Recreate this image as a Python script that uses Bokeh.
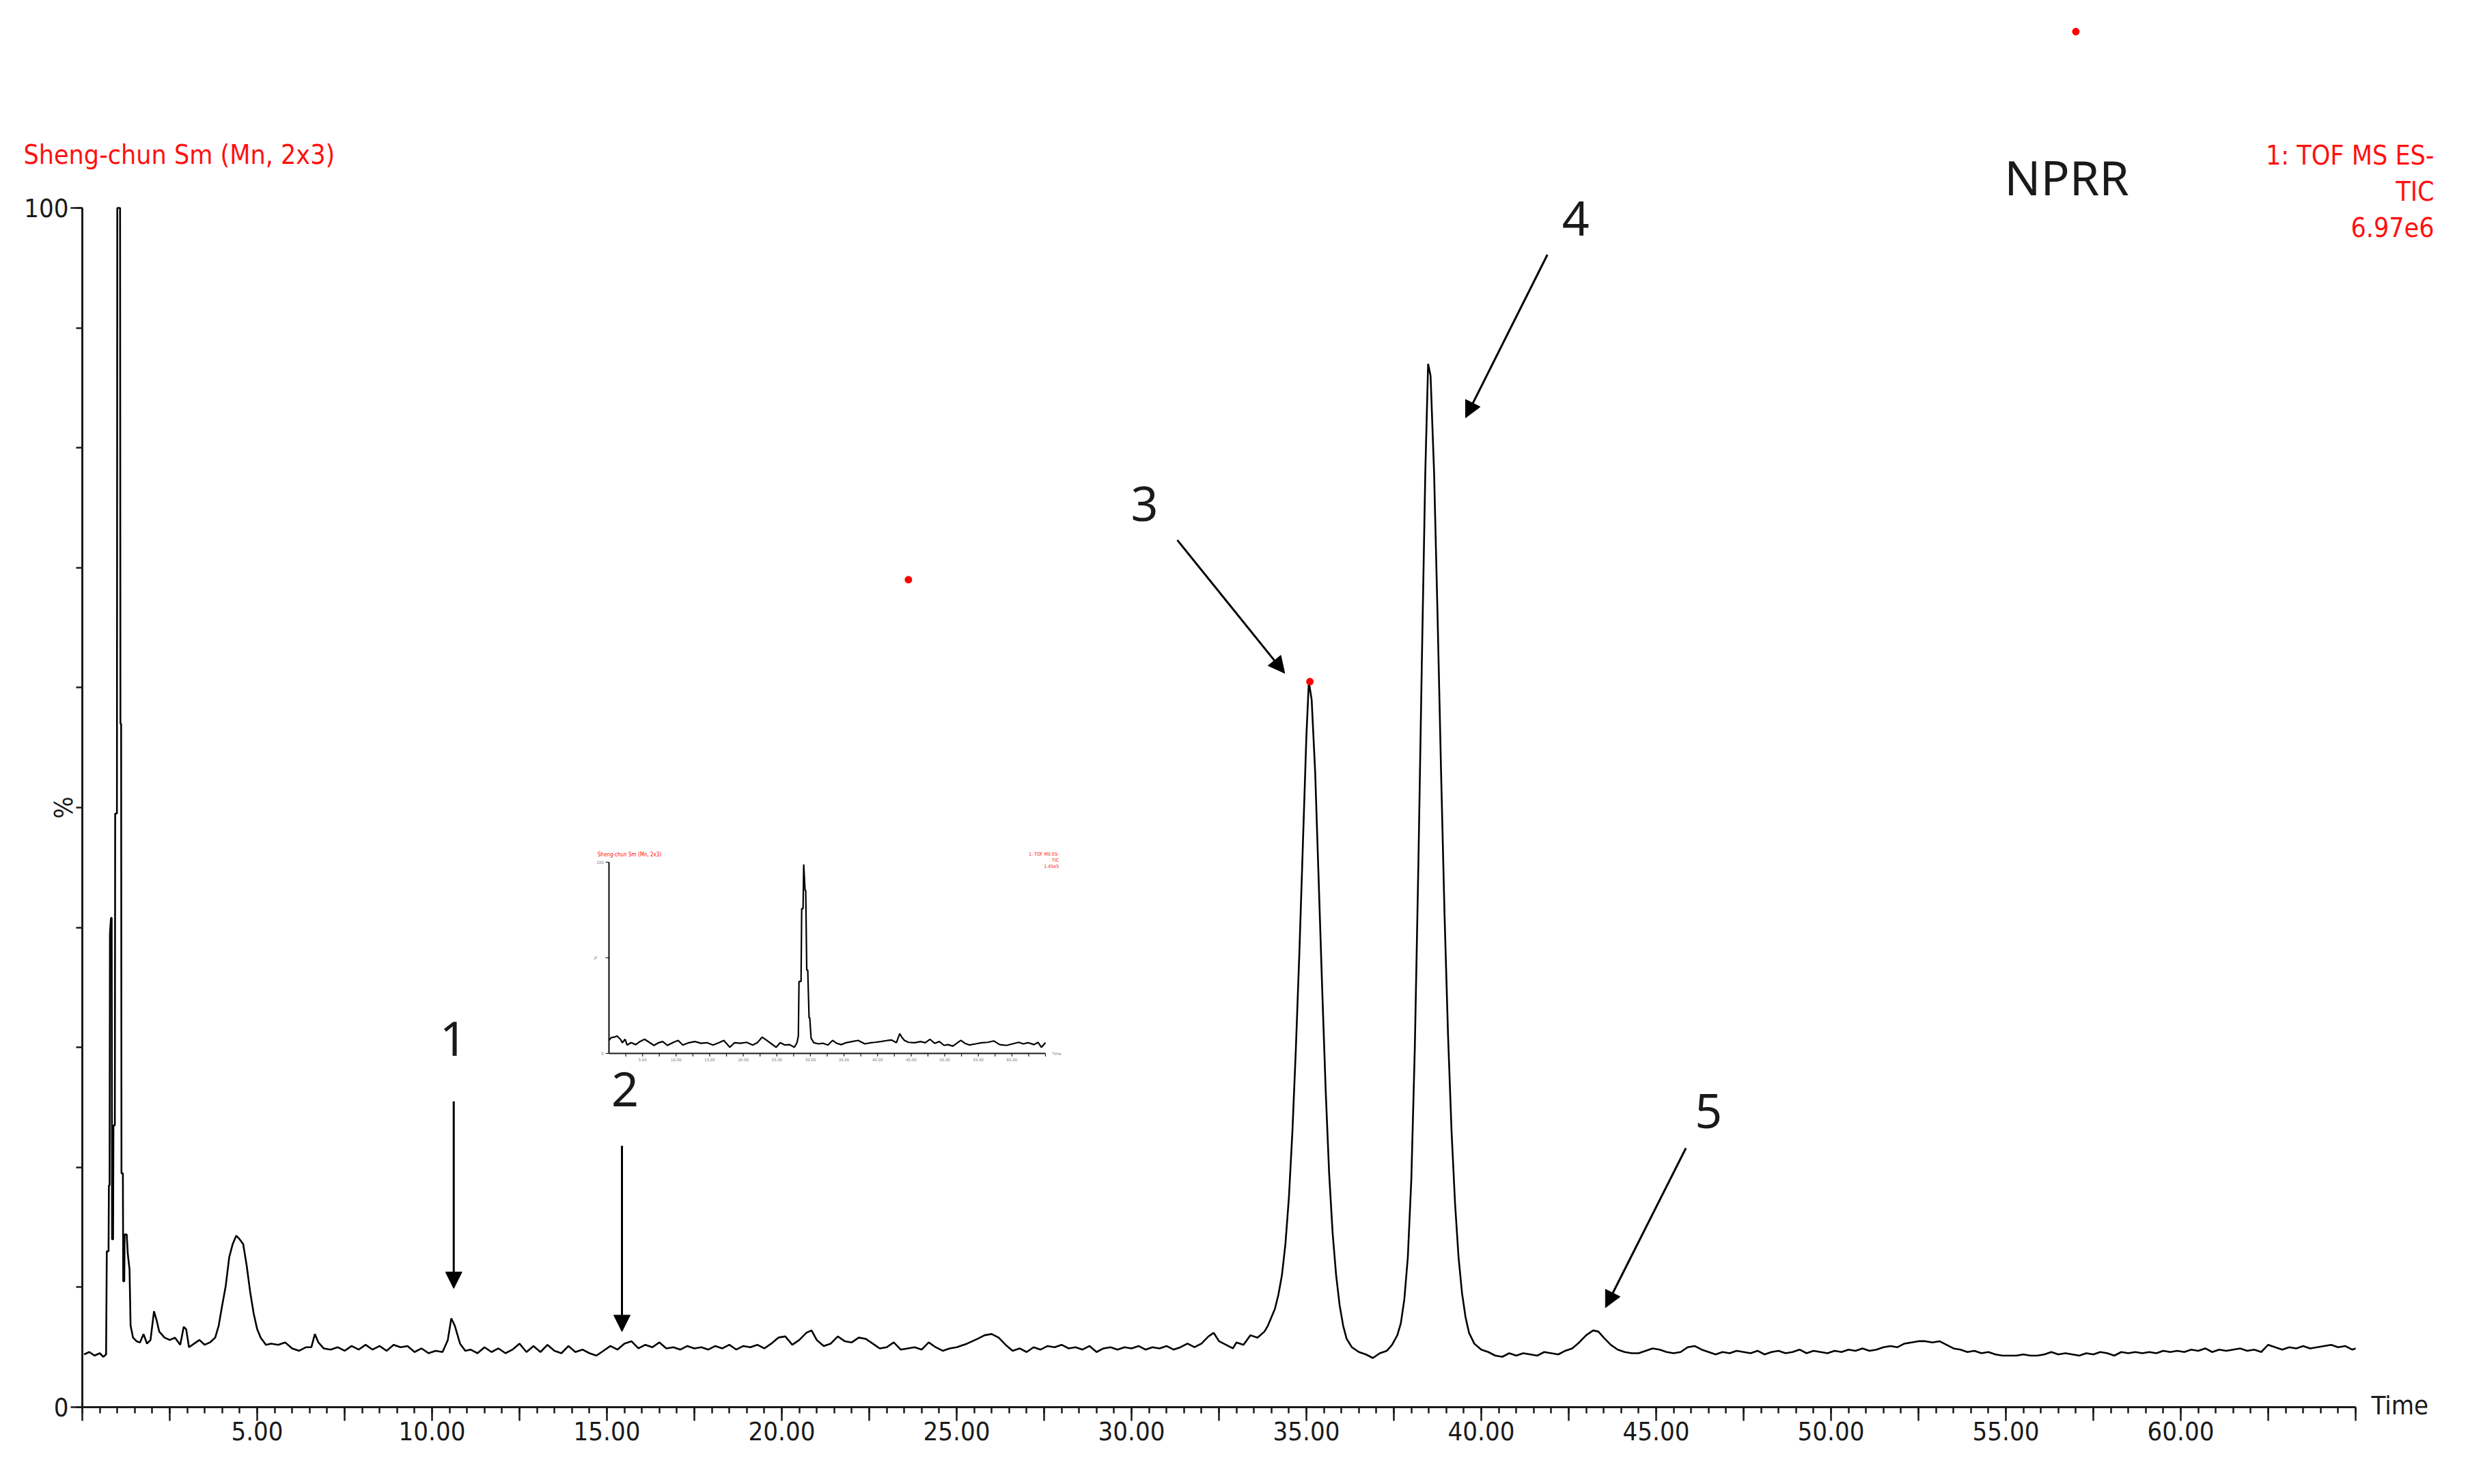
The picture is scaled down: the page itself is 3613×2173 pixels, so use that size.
import math
from bokeh.plotting import figure
from bokeh.models import (Range1d, FixedTicker, Label, Arrow, NormalHead,
                          PrintfTickFormatter)
from bokeh.embed import file_html
from bokeh.resources import INLINE

# ---------------- data ----------------
main_time = [0.05, 0.2, 0.35, 0.5, 0.6, 0.68, 0.70, 0.75, 0.76, 0.78, 0.79, 0.82, 0.84, 0.85, 0.88,
             0.89, 0.93, 0.94, 0.99, 1.00, 1.08, 1.09, 1.11, 1.12, 1.16, 1.17, 1.20, 1.21, 1.27,
             1.30, 1.35, 1.38, 1.45, 1.55, 1.65, 1.75, 1.85, 1.95, 2.05, 2.12, 2.2, 2.35, 2.5,
             2.65, 2.8, 2.9, 2.97, 3.05, 3.2, 3.35, 3.5, 3.65, 3.8, 3.9, 4.0, 4.1, 4.2, 4.3, 4.4,
             4.5, 4.6, 4.7, 4.8, 4.9, 5.0, 5.1, 5.25, 5.4, 5.6, 5.8, 6.0, 6.2, 6.4, 6.55, 6.65,
             6.75, 6.9, 7.1, 7.3, 7.5, 7.7, 7.9, 8.1, 8.3, 8.5, 8.7, 8.9, 9.1, 9.3, 9.5, 9.7, 9.9,
             10.1, 10.3, 10.45, 10.55, 10.65, 10.8, 10.95, 11.1, 11.3, 11.5, 11.7, 11.9, 12.1,
             12.3, 12.5, 12.7, 12.9, 13.1, 13.3, 13.5, 13.7, 13.9, 14.1, 14.3, 14.5, 14.7, 14.9,
             15.1, 15.3, 15.5, 15.7, 15.9, 16.1, 16.3, 16.5, 16.7, 16.9, 17.1, 17.3, 17.5, 17.7,
             17.9, 18.1, 18.3, 18.5, 18.7, 18.9, 19.1, 19.3, 19.5, 19.7, 19.9, 20.1, 20.3, 20.5,
             20.7, 20.85, 21.0, 21.2, 21.4, 21.6, 21.8, 22.0, 22.2, 22.4, 22.6, 22.8, 23.0, 23.2,
             23.4, 23.6, 23.8, 24.0, 24.2, 24.4, 24.6, 24.8, 25.0, 25.3, 25.6, 25.8, 26.0, 26.2,
             26.4, 26.6, 26.8, 27.0, 27.2, 27.4, 27.6, 27.8, 28.0, 28.2, 28.4, 28.6, 28.8, 29.0,
             29.2, 29.4, 29.6, 29.8, 30.0, 30.2, 30.4, 30.6, 30.8, 31.0, 31.2, 31.4, 31.6, 31.8,
             32.0, 32.2, 32.35, 32.5, 32.7, 32.9, 33.0, 33.2, 33.4, 33.6, 33.8, 33.9, 34.0, 34.1,
             34.2, 34.3, 34.4, 34.5, 34.6, 34.7, 34.8, 34.9, 35.0, 35.07, 35.15, 35.25, 35.35,
             35.45, 35.55, 35.65, 35.75, 35.85, 35.95, 36.05, 36.15, 36.3, 36.5, 36.7, 36.9, 37.1,
             37.3, 37.45, 37.6, 37.7, 37.8, 37.9, 38.0, 38.1, 38.2, 38.3, 38.4, 38.48, 38.55,
             38.65, 38.75, 38.85, 38.95, 39.05, 39.15, 39.25, 39.35, 39.45, 39.55, 39.65, 39.8,
             40.0, 40.2, 40.4, 40.6, 40.8, 41.0, 41.2, 41.4, 41.6, 41.8, 42.0, 42.2, 42.4, 42.6,
             42.8, 43.0, 43.2, 43.35, 43.5, 43.7, 43.9, 44.1, 44.3, 44.5, 44.7, 44.9, 45.1, 45.3,
             45.5, 45.7, 45.9, 46.1, 46.3, 46.5, 46.7, 46.9, 47.1, 47.3, 47.5, 47.7, 47.9, 48.1,
             48.3, 48.5, 48.7, 48.9, 49.1, 49.3, 49.5, 49.7, 49.9, 50.1, 50.3, 50.5, 50.7, 50.9,
             51.1, 51.3, 51.5, 51.7, 51.9, 52.1, 52.3, 52.5, 52.7, 52.9, 53.1, 53.3, 53.5, 53.7,
             53.9, 54.1, 54.3, 54.5, 54.7, 54.9, 55.1, 55.3, 55.5, 55.7, 55.9, 56.1, 56.3, 56.5,
             56.7, 56.9, 57.1, 57.3, 57.5, 57.7, 57.9, 58.1, 58.3, 58.5, 58.7, 58.9, 59.1, 59.3,
             59.5, 59.7, 59.9, 60.1, 60.3, 60.5, 60.7, 60.9, 61.1, 61.3, 61.5, 61.7, 61.9, 62.1,
             62.3, 62.5, 62.7, 62.9, 63.1, 63.3, 63.5, 63.7, 63.9, 64.1, 64.3, 64.5, 64.7, 64.9,
             65.0]
main_pct = [4.4, 4.6, 4.3, 4.5, 4.2, 4.4, 13.0, 13.0, 18.5, 18.5, 39.5, 40.8, 40.8, 14.0, 14.0,
            23.5, 23.5, 49.5, 49.5, 100, 100, 57, 57, 19.5, 19.5, 10.5, 10.5, 14.4, 14.4,
            12.8, 11.5, 6.8, 5.8, 5.5, 5.4, 6.1, 5.3, 5.6, 8.0, 7.3, 6.3, 5.8, 5.6,
            5.8, 5.2, 6.7, 6.5, 5.0, 5.3, 5.6, 5.2, 5.4, 5.8, 6.8, 8.5, 10.1, 12.5, 13.6, 14.3,
            14.0, 13.6, 11.8, 9.6, 7.8, 6.5, 5.8, 5.2, 5.3, 5.2, 5.4, 4.9, 4.7, 5.0, 5.0, 6.1,
            5.4, 4.9, 4.8, 5.0, 4.7, 5.1, 4.8, 5.2, 4.8, 5.1, 4.7, 5.2, 5.0, 5.1, 4.6, 4.9, 4.5,
            4.7, 4.6, 5.6, 7.4, 6.8, 5.3, 4.7, 4.8, 4.5, 5.0, 4.6, 4.9, 4.5,
            4.8, 5.3, 4.6, 5.1, 4.6, 5.2, 4.7, 4.5, 5.1, 4.6, 4.8, 4.5, 4.3, 4.7,
            5.1, 4.8, 5.3, 5.5, 4.9, 5.2, 5.0, 5.4, 4.9, 5.0, 4.8, 5.1, 4.9, 5.0,
            4.8, 5.1, 4.9, 5.2, 4.8, 5.1, 5.0, 5.2, 4.9, 5.3, 5.8, 5.9, 5.2, 5.6,
            6.2, 6.4, 5.6, 5.1, 5.3, 5.9, 5.5, 5.4, 5.8, 5.7, 5.3, 4.9, 5.0, 5.4,
            4.8, 4.9, 5.0, 4.8, 5.4, 5.0, 4.7, 4.9, 5.0, 5.3, 5.7, 6.0, 6.1, 5.8,
            5.2, 4.7, 4.9, 4.6, 5.0, 4.8, 5.1, 5.0, 5.2, 4.9, 5.0, 4.8, 5.1, 4.6,
            4.9, 5.0, 4.8, 5.0, 4.9, 5.1, 4.8, 5.0, 4.9, 5.1, 4.8, 5.0, 5.3, 5.0,
            5.3, 5.9, 6.2, 5.5, 5.2, 4.9, 5.4, 5.2, 6.0, 5.8, 6.3, 6.8, 7.5, 8.2,
            9.4, 11.0, 13.6, 17.5, 23, 30, 38, 47, 56, 60.5, 59, 53, 44,
            35, 26.5, 19.5, 14.5, 11.0, 8.5, 6.8, 5.7, 5.0, 4.6, 4.4, 4.1, 4.5,
            4.7, 5.2, 6.0, 7.0, 9.0, 12.5, 19, 30, 45, 62, 78, 87, 86,
            78, 66, 53, 41, 31, 23, 17, 12.5, 9.5, 7.5, 6.2, 5.3,
            4.8, 4.6, 4.3, 4.2, 4.5, 4.3, 4.5, 4.4, 4.3, 4.6, 4.5, 4.4, 4.7, 4.9,
            5.4, 6.0, 6.4, 6.3, 5.8, 5.2, 4.8, 4.6, 4.5, 4.5, 4.7, 4.9, 4.8, 4.6,
            4.5, 4.6, 5.0, 5.1, 4.8, 4.6, 4.4, 4.6, 4.5, 4.7, 4.6, 4.5, 4.7, 4.4,
            4.6, 4.7, 4.5, 4.6, 4.8, 4.5, 4.7, 4.6, 4.5, 4.7, 4.6, 4.8, 4.7, 4.9,
            4.7, 4.8, 5.0, 5.1, 5.0, 5.3, 5.4, 5.5, 5.5, 5.4, 5.5, 5.2, 4.9, 4.8,
            4.6, 4.7, 4.5, 4.6, 4.4, 4.3, 4.3, 4.3, 4.4, 4.3, 4.3, 4.4, 4.6, 4.4,
            4.5, 4.4, 4.3, 4.5, 4.4, 4.6, 4.5, 4.3, 4.6, 4.5, 4.6, 4.5, 4.6, 4.5,
            4.7, 4.6, 4.7, 4.6, 4.8, 4.7, 4.9, 4.6, 4.8, 4.7, 4.8, 4.9, 4.7, 4.8,
            4.6, 5.2, 5.0, 4.8, 5.0, 4.9, 5.1, 4.9, 5.0, 5.1, 5.2, 5.0, 5.1, 4.8,
            4.9]

inset_time = [0.0, 0.3, 0.77, 1.2, 1.7, 2.0, 2.4, 2.7, 3.3, 4.0, 4.6, 5.3, 6.0, 6.7, 7.4, 8.0,
              8.7, 9.6, 10.3, 11.0, 11.9, 12.8, 13.7, 14.6, 15.5, 16.5, 17.1, 18.0, 18.7, 19.6,
              20.5, 21.4, 22.1, 22.8, 23.5, 24.2, 24.9, 25.5, 26.2, 26.9, 27.6, 28.0, 28.2, 28.3,
              28.6, 28.7, 28.9, 29.0, 29.2, 29.3, 29.45, 29.6, 29.8, 29.9, 30.1, 30.5, 31.2, 31.9,
              32.6, 33.3, 33.9, 34.6, 35.3, 36.2, 37.1, 38.1, 39.0, 39.6, 40.5, 41.5, 42.1, 42.8,
              43.3, 43.6, 44.0, 44.6, 45.5, 46.4, 47.1, 47.8, 48.5, 49.2, 49.9, 50.5, 51.2, 51.9,
              52.4, 53.0, 53.7, 54.6, 55.5, 56.4, 57.3, 58.2, 59.2, 60.1, 61.0, 61.7, 62.4, 63.3,
              63.9, 64.4, 65.0]
inset_pct = [6.8, 8.2, 8.5, 9.1, 7.4, 5.6, 7.4, 4.4, 5.6, 4.6, 6.2, 7.4, 5.8, 4.2, 5.6, 6.2,
             4.2, 5.8, 6.8, 4.4, 5.6, 6.2, 5.3, 5.6, 4.4, 5.8, 6.8, 3.2, 5.6, 5.3,
             5.8, 4.4, 5.6, 8.5, 6.8, 5.0, 3.2, 5.6, 4.4, 4.6, 3.2, 5.6, 9.1, 37.6,
             37.6, 75.7, 75.7, 98.8, 85.2, 85.2, 43.6, 43.6, 18.6, 18.6, 8.0, 5.6, 5.0, 5.3,
             4.4, 6.8, 5.3, 4.6, 5.6, 6.2, 6.8, 5.0, 5.6, 5.8, 6.2, 6.8, 7.0, 5.6,
             10.3, 8.5, 6.8, 5.8, 5.6, 6.2, 5.6, 7.4, 5.3, 6.2, 4.2, 4.6, 3.8, 5.6,
             6.8, 5.3, 4.4, 5.0, 5.6, 5.8, 6.5, 4.6, 4.2, 5.0, 5.8, 5.0, 5.6, 4.6,
             5.8, 3.2, 5.6]

x_labelled_ticks = [5, 10, 15, 20, 25, 30, 35, 40, 45, 50, 55, 60]
peak_numbers = ["1", "2", "3", "4", "5"]
peak_label_t = [10.61, 15.52, 30.37, 42.70, 46.50]
peak_label_pct = [30.7, 26.5, 75.3, 99.1, 24.7]
arrow_start_t = [10.62, 15.43, 31.31, 41.89, 45.85]
arrow_start_pct = [25.5, 21.8, 72.3, 96.1, 21.6]
arrow_end_t = [10.62, 15.43, 34.38, 39.55, 43.55]
arrow_end_pct = [9.9, 6.3, 61.2, 82.5, 8.3]
red_dot_t = [57.0, 23.62, 35.10]
red_dot_pct = [114.7, 69.0, 60.5]

header_left = "Sheng-chun Sm (Mn, 2x3)"
header_right = ["1: TOF MS ES-", "TIC", "6.97e6"]
sample_name = "NPRR"
inset_header_right = ["1: TOF MS ES-", "TIC", "1.45e5"]

# ---------------- layout calibration (page pixels) ----------------
W, H = 3600, 2160
PX0, PX_PER_MIN = 120.0, 51.2     # page x of t=0, px per minute
PY0, PY_PER_PCT = 2060.0, 17.56   # page y of 0 %, px per %
t_of = lambda px: (px - PX0) / PX_PER_MIN
c_of = lambda py: (PY0 - py) / PY_PER_PCT

FONT = "DejaVu Sans Condensed"
INK = "#1a1a1a"
RED = "#ff1010"

# the frame fills the whole canvas; axes are pinned at t=0 and 0 %
p = figure(width=W, height=H, output_backend="svg", toolbar_location=None, title=None,
           x_range=Range1d(t_of(0), t_of(W)), y_range=Range1d(c_of(H), c_of(0)),
           min_border=0, min_border_left=0, min_border_right=0,
           min_border_top=0, min_border_bottom=0,
           background_fill_color="white", border_fill_color="white")
p.outline_line_color = None
p.grid.visible = False

# x axis
xa = p.xaxis[0]
xa.fixed_location = 0
major_x = [i * 2.5 for i in range(27)]
minor_x = [i * 0.5 for i in range(131)]
xa.ticker = FixedTicker(ticks=major_x, minor_ticks=minor_x)
xa.bounds = (0, 65)
xa.formatter = PrintfTickFormatter(format="%.2f")
xa.major_label_overrides = {(int(t) if float(t).is_integer() else t): ""
                            for t in major_x if t not in x_labelled_ticks}
xa.axis_line_width = 3
xa.axis_line_color = INK
xa.major_tick_out = 20
xa.major_tick_in = 0
xa.minor_tick_out = 9
xa.minor_tick_in = 0
xa.major_tick_line_width = 2.5
xa.minor_tick_line_width = 2.5
xa.major_tick_line_color = INK
xa.minor_tick_line_color = INK
xa.major_label_standoff = 1
xa.major_label_text_font = FONT
xa.major_label_text_font_size = "38px"
xa.major_label_text_color = INK

# y axis
ya = p.yaxis[0]
ya.fixed_location = 0
ya.ticker = FixedTicker(ticks=[0, 100], minor_ticks=list(range(0, 101, 10)))
ya.bounds = (0, 100)
ya.axis_line_width = 3
ya.axis_line_color = INK
ya.major_tick_out = 17
ya.major_tick_in = 0
ya.minor_tick_out = 9
ya.minor_tick_in = 0
ya.major_tick_line_width = 2.5
ya.minor_tick_line_width = 2.5
ya.major_tick_line_color = INK
ya.minor_tick_line_color = INK
ya.major_label_standoff = 3
ya.major_label_text_font = FONT
ya.major_label_text_font_size = "38px"
ya.major_label_text_color = INK

# main trace
p.line(main_time, main_pct, line_color="black", line_width=2.6)

# ---------------- inset (own ranges mapped into the page) ----------------
I_X0, I_X1 = 891.0, 1530.0   # page x of inset t=0 and t=65
I_Y0, I_Y1 = 1542.0, 1262.0  # page y of inset 0 % and 100 %
ku = (t_of(I_X1) - t_of(I_X0)) / 65.0
kv = (c_of(I_Y1) - c_of(I_Y0)) / 100.0
p.extra_x_ranges = {"ix": Range1d((p.x_range.start - t_of(I_X0)) / ku,
                                  (p.x_range.end - t_of(I_X0)) / ku)}
p.extra_y_ranges = {"iy": Range1d((p.y_range.start - c_of(I_Y0)) / kv,
                                  (p.y_range.end - c_of(I_Y0)) / kv)}
IR = dict(x_range_name="ix", y_range_name="iy")

p.line([0, 65], [0, 0], line_color=INK, line_width=2.2, **IR)
p.line([0, 0], [0, 100], line_color=INK, line_width=2.2, **IR)
inset_ticks = [i * 2.5 for i in range(1, 27)]
p.segment(x0=inset_ticks, y0=[0] * len(inset_ticks), x1=inset_ticks,
          y1=[-1.6] * len(inset_ticks), line_color=INK, line_width=1.2, **IR)
p.segment(x0=[0, 0, 0], y0=[0, 50, 100], x1=[-0.5, -0.5, -0.5], y1=[0, 50, 100],
          line_color=INK, line_width=1.2, **IR)
p.line(inset_time, inset_pct, line_color="black", line_width=2.2, **IR)
for t in x_labelled_ticks:
    p.add_layout(Label(x=t, y=-2.2, text=f"{t:.2f}", text_font=FONT, text_font_size="6px",
                       text_color="#777777", text_align="center", text_baseline="top", **IR))
for v, s in [(100, "100"), (0, "0")]:
    p.add_layout(Label(x=-0.8, y=v, text=s, text_font=FONT, text_font_size="6px",
                       text_color="#777777", text_align="right", text_baseline="middle", **IR))
p.add_layout(Label(x=-2.0, y=50, text="%", text_font=FONT, text_font_size="6px",
                   text_color="#777777", angle=math.pi / 2, text_align="center",
                   text_baseline="middle", **IR))
p.add_layout(Label(x=66.0, y=0, text="Time", text_font=FONT, text_font_size="6px",
                   text_color="#777777", text_align="left", text_baseline="middle", **IR))
p.add_layout(Label(x=-1.7, y=104.0, text=header_left, text_font=FONT, text_font_size="8px",
                   text_color=RED, text_align="left", text_baseline="middle", **IR))
for i, s in enumerate(inset_header_right):
    p.add_layout(Label(x=67.0, y=104.0 - 3.0 * i, text=s, text_font=FONT,
                       text_font_size="7px", text_color=RED, text_align="right",
                       text_baseline="middle", **IR))

# ---------------- annotations ----------------
p.add_layout(Label(x=t_of(34), y=c_of(226), text=header_left, text_font=FONT,
                   text_font_size="39px", text_color=RED, text_align="left",
                   text_baseline="middle"))
for i, s in enumerate(header_right):
    p.add_layout(Label(x=t_of(3563), y=c_of(227 + 52.5 * i), text=s, text_font=FONT,
                       text_font_size="39px", text_color=RED, text_align="right",
                       text_baseline="middle"))
p.add_layout(Label(x=56.74, y=102.6, text=sample_name, text_font="Noto Sans",
                   text_font_size="70px", text_color=INK, text_align="center",
                   text_baseline="middle"))
p.add_layout(Label(x=t_of(92), y=50, text="%", text_font=FONT, text_font_size="38px",
                   text_color=INK, angle=math.pi / 2, text_align="center",
                   text_baseline="middle"))
p.add_layout(Label(x=t_of(3471), y=c_of(2057), text="Time", text_font=FONT,
                   text_font_size="38px", text_color=INK, text_align="left",
                   text_baseline="middle"))

for s, lt, lp in zip(peak_numbers, peak_label_t, peak_label_pct):
    p.add_layout(Label(x=lt, y=lp, text=s, text_font="Noto Sans", text_font_size="70px",
                       text_color=INK, text_align="center", text_baseline="middle"))
for x0, y0, x1, y1 in zip(arrow_start_t, arrow_start_pct, arrow_end_t, arrow_end_pct):
    p.add_layout(Arrow(x_start=x0, y_start=y0, x_end=x1, y_end=y1, line_color="black",
                       line_width=3,
                       end=NormalHead(size=24, fill_color="black", line_color="black",
                                      line_width=1)))

p.scatter(red_dot_t, red_dot_pct, size=11, color="#ff0000", line_color=None)

open("out.html", "w").write(file_html(p, INLINE))
